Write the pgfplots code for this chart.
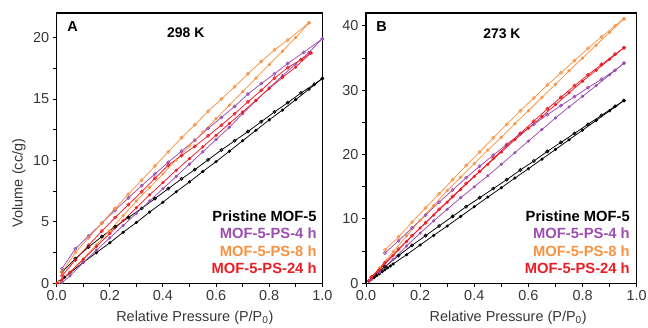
\documentclass[border=0pt]{standalone}
\usepackage{pgfplots}
\pgfplotsset{compat=1.18}
\usepackage{fontspec}
\setmainfont{Liberation Sans}
\definecolor{cpur}{RGB}{155,78,175}
\definecolor{cora}{RGB}{248,146,66}
\definecolor{cred}{RGB}{237,28,36}
\definecolor{ctxt}{RGB}{55,55,55}
\tikzset{
  leg/.style={anchor=east, inner sep=0pt, font=\bfseries\fontsize{14.8}{17}\selectfont},
  ads/.style={#1, line width=0.75bp, mark=*, mark size=1.2bp, mark options={solid, fill=#1}},
  des/.style={#1, line width=0.75bp, mark=o, mark size=1.5bp, mark options={solid, fill=white}},
}
\pgfplotsset{
  mystyle/.style={
    scale only axis, xmin=0, xmax=1, ymin=0,
    axis line style={line width=1.2bp},
    tick align=outside, xtick pos=bottom, ytick pos=left,
    major tick length=4bp, minor tick length=4bp,
    every tick/.style={line width=0.9bp, black},
    minor x tick num=1, minor y tick num=1,
    xtick={0,0.2,0.4,0.6,0.8,1},
    xticklabel style={/pgf/number format/.cd,fixed,fixed zerofill,precision=1},
    /pgf/number format/assume math mode=true,
    ticklabel style={font=\fontsize{14.5}{17}\selectfont, text=ctxt},
    label style={font=\fontsize{14.5}{17}\selectfont, text=ctxt},
    xlabel={Relative Pressure (P/P\textsubscript{0})},
    xlabel style={at={(axis description cs:0.52,-0.142)}, anchor=base},
    clip=false,
  },
}
\begin{document}
\begin{tikzpicture}
% ---------------- Panel A ----------------
\begin{axis}[mystyle, width=265.6bp, height=270.3bp,
  at={(56.7bp,-283.3bp)}, anchor=south west,
  ymax=22, ytick={0,5,10,15,20},
  ylabel={Volume (cc/g)},
  ylabel style={at={(axis description cs:-0.142,0.371)}, anchor=center},
]
\addplot[ads=black] coordinates {(0.01,0.15)(0.03,0.5)(0.05,0.85)(0.1,1.7)(0.15,2.5)(0.2,3.3)(0.25,4.15)(0.3,4.95)(0.35,5.8)(0.4,6.6)(0.45,7.45)(0.5,8.25)(0.55,9.1)(0.6,9.9)(0.65,10.75)(0.7,11.6)(0.75,12.45)(0.8,13.3)(0.85,14.1)(0.9,14.95)(0.95,15.8)(1.0,16.67)};
\addplot[des=black] coordinates {(1.0,16.67)(0.97,16.2)(0.92,15.5)(0.87,14.7)(0.82,13.95)(0.77,13.15)(0.72,12.35)(0.67,11.6)(0.62,10.85)(0.57,10.05)(0.52,9.25)(0.47,8.5)(0.42,7.7)(0.37,6.9)(0.32,6.1)(0.27,5.35)(0.22,4.6)(0.17,3.8)(0.12,2.95)(0.07,2.0)(0.02,0.9)};
\addplot[ads=cpur] coordinates {(0.02,0.05)(0.05,0.6)(0.1,1.7)(0.15,2.7)(0.2,3.7)(0.25,4.7)(0.3,5.7)(0.35,6.7)(0.4,7.7)(0.45,8.7)(0.5,9.7)(0.55,10.7)(0.6,11.7)(0.65,12.7)(0.7,13.8)(0.75,14.85)(0.8,15.9)(0.85,16.9)(0.9,17.85)(0.95,18.8)(1.0,19.9)};
\addplot[des=cpur] coordinates {(1.0,19.9)(0.93,18.8)(0.87,17.9)(0.82,17.05)(0.77,16.25)(0.72,15.4)(0.67,14.4)(0.62,13.5)(0.57,12.6)(0.52,11.65)(0.47,10.75)(0.42,9.85)(0.37,8.9)(0.32,7.95)(0.27,6.95)(0.22,5.95)(0.17,4.9)(0.12,3.85)(0.07,2.8)(0.02,1.2)};
\addplot[ads=cora] coordinates {(0.01,0.1)(0.05,0.9)(0.1,2.0)(0.15,3.15)(0.2,4.3)(0.25,5.5)(0.3,6.7)(0.35,7.8)(0.4,8.9)(0.45,10.05)(0.5,11.2)(0.55,12.3)(0.6,13.4)(0.65,14.5)(0.7,15.6)(0.75,16.7)(0.8,17.8)(0.85,18.9)(0.9,20.0)(0.95,21.2)};
\addplot[des=cora] coordinates {(0.95,21.2)(0.87,19.8)(0.82,19.0)(0.77,18.05)(0.72,17.05)(0.67,16.0)(0.62,15.0)(0.57,14.0)(0.52,12.9)(0.47,11.85)(0.42,10.7)(0.37,9.55)(0.32,8.4)(0.27,7.25)(0.22,6.1)(0.17,4.9)(0.12,3.7)(0.07,2.5)(0.02,0.9)};
\addplot[ads=cred] coordinates {(0.0,0.0)(0.02,0.3)(0.05,0.9)(0.1,1.95)(0.15,3.0)(0.2,4.05)(0.25,5.1)(0.3,6.15)(0.35,7.2)(0.4,8.2)(0.45,9.2)(0.5,10.15)(0.55,11.1)(0.6,12.05)(0.65,13.0)(0.7,13.95)(0.75,14.9)(0.8,15.85)(0.85,16.75)(0.9,17.6)(0.957,18.75)};
\addplot[des=cred] coordinates {(0.957,18.75)(0.92,18.2)(0.87,17.55)(0.82,16.7)(0.77,15.7)(0.72,14.77)(0.67,13.8)(0.62,12.87)(0.57,12.0)(0.52,11.15)(0.47,10.4)(0.42,9.6)(0.37,8.55)(0.32,7.45)(0.27,6.4)(0.22,5.35)(0.17,4.25)(0.12,3.1)(0.07,1.9)(0.02,0.6)};
\node[font=\bfseries\fontsize{14.5}{17}\selectfont] at (rel axis cs:0.06,0.949) {A};
\node[font=\bfseries\fontsize{14}{17}\selectfont] at (rel axis cs:0.486,0.928) {298 K};
\node[leg, text=black] at (rel axis cs:0.979,0.2464) {Pristine MOF-5};
\node[leg, text=cpur] at (rel axis cs:0.979,0.185) {MOF-5-PS-4 h};
\node[leg, text=cora] at (rel axis cs:0.979,0.1195) {MOF-5-PS-8 h};
\node[leg, text=cred] at (rel axis cs:0.979,0.0555) {MOF-5-PS-24 h};
\end{axis}
% ---------------- Panel B ----------------
\begin{axis}[mystyle, width=270.7bp, height=270.3bp,
  at={(366bp,-283.3bp)}, anchor=south west,
  ymax=42, ytick={0,10,20,30,40},
  xlabel style={at={(axis description cs:0.525,-0.142)}, anchor=base},
]
\addplot[ads=black] coordinates {(0.01,0.3)(0.02,0.6)(0.03,0.9)(0.04,1.2)(0.05,1.5)(0.06,1.8)(0.07,2.1)(0.08,2.4)(0.09,2.7)(0.1,3.0)(0.15,4.45)(0.2,5.95)(0.25,7.45)(0.3,8.9)(0.35,10.4)(0.4,11.9)(0.45,13.4)(0.5,14.85)(0.55,16.35)(0.6,17.8)(0.65,19.3)(0.7,20.8)(0.75,22.3)(0.8,23.8)(0.85,25.3)(0.9,26.8)(0.953,28.4)};
\addplot[des=black] coordinates {(0.953,28.4)(0.92,27.5)(0.87,26.1)(0.82,24.7)(0.77,23.3)(0.72,21.9)(0.67,20.5)(0.62,19.0)(0.57,17.6)(0.52,16.1)(0.47,14.7)(0.42,13.3)(0.37,11.9)(0.32,10.4)(0.27,8.9)(0.22,7.4)(0.17,5.9)(0.12,4.3)(0.07,2.6)(0.02,0.9)};
\addplot[ads=cpur] coordinates {(0.01,0.3)(0.02,0.6)(0.05,1.7)(0.1,3.7)(0.15,5.8)(0.2,7.8)(0.25,9.7)(0.3,11.5)(0.35,13.3)(0.4,15.0)(0.45,16.7)(0.5,18.5)(0.55,20.3)(0.6,22.1)(0.65,23.9)(0.7,25.7)(0.75,27.4)(0.8,29.05)(0.85,30.7)(0.9,32.4)(0.953,34.2)};
\addplot[des=cpur] coordinates {(0.953,34.2)(0.92,33.1)(0.87,31.7)(0.82,30.4)(0.77,29.0)(0.72,27.6)(0.67,26.2)(0.62,24.7)(0.57,23.2)(0.52,21.6)(0.47,19.9)(0.42,18.2)(0.37,16.4)(0.32,14.5)(0.27,12.6)(0.22,10.6)(0.17,8.6)(0.12,6.6)(0.07,4.7)};
\addplot[ads=cora] coordinates {(0.01,0.4)(0.02,0.9)(0.05,2.4)(0.1,4.9)(0.15,7.4)(0.2,9.8)(0.25,12.1)(0.3,14.4)(0.35,16.5)(0.4,18.6)(0.45,20.7)(0.5,22.7)(0.55,24.8)(0.6,26.8)(0.65,28.9)(0.7,30.9)(0.75,33.0)(0.8,35.0)(0.85,37.0)(0.9,39.0)(0.953,41.1)};
\addplot[des=cora] coordinates {(0.953,41.1)(0.92,40.0)(0.87,38.3)(0.82,36.5)(0.77,34.6)(0.72,32.7)(0.67,30.8)(0.62,28.8)(0.57,26.8)(0.52,24.7)(0.47,22.6)(0.42,20.4)(0.37,18.3)(0.32,16.1)(0.27,13.9)(0.22,11.7)(0.17,9.5)(0.12,7.2)(0.07,5.2)};
\addplot[ads=cred] coordinates {(0.01,0.4)(0.02,0.8)(0.05,2.1)(0.1,4.3)(0.15,6.5)(0.2,8.6)(0.25,10.6)(0.3,12.6)(0.35,14.6)(0.4,16.6)(0.45,18.5)(0.5,20.4)(0.55,22.3)(0.6,24.1)(0.65,25.9)(0.7,27.75)(0.75,29.6)(0.8,31.4)(0.85,33.1)(0.9,34.8)(0.953,36.6)};
\addplot[des=cred] coordinates {(0.953,36.6)(0.92,35.6)(0.87,34.0)(0.82,32.4)(0.77,30.7)(0.72,28.9)(0.67,27.1)(0.62,25.2)(0.57,23.3)(0.52,21.4)(0.47,19.4)(0.42,17.4)(0.37,15.5)(0.32,13.5)(0.27,11.5)(0.22,9.4)(0.17,7.4)(0.12,5.3)(0.07,3.2)(0.02,1.0)};
\node[font=\bfseries\fontsize{14.5}{17}\selectfont] at (rel axis cs:0.058,0.949) {B};
\node[font=\bfseries\fontsize{14}{17}\selectfont] at (rel axis cs:0.502,0.925) {273 K};
\node[leg, text=black] at (rel axis cs:0.975,0.2464) {Pristine MOF-5};
\node[leg, text=cpur] at (rel axis cs:0.975,0.185) {MOF-5-PS-4 h};
\node[leg, text=cora] at (rel axis cs:0.975,0.1195) {MOF-5-PS-8 h};
\node[leg, text=cred] at (rel axis cs:0.975,0.0555) {MOF-5-PS-24 h};
\end{axis}
\pgfresetboundingbox
\path[use as bounding box] (0,0) rectangle (648bp,-328bp);
\end{tikzpicture}
\end{document}
